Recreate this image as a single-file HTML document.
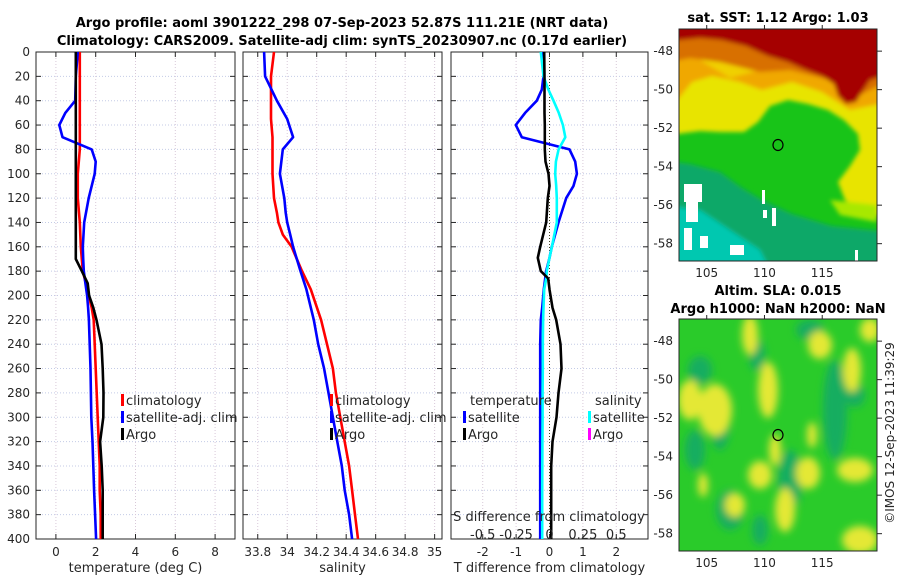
<!DOCTYPE html>
<html><head><meta charset="utf-8">
<style>
body{margin:0;background:#fff;}
svg{display:block;font-family:"DejaVu Sans","Liberation Sans",sans-serif;}
.t{font-size:12px;fill:#262626;}
.b{font-size:13px;font-weight:bold;fill:#000;}
.lg{font-size:13px;fill:#262626;}
</style></head>
<body>
<svg id="chart" width="900" height="580" viewBox="0 0 900 580">
<text class="b" x="342" y="27" text-anchor="middle">Argo profile: aoml 3901222_298 07-Sep-2023 52.87S 111.21E (NRT data)</text>
<text class="b" x="342" y="45" text-anchor="middle">Climatology: CARS2009. Satellite-adj clim: synTS_20230907.nc (0.17d earlier)</text>
<g id="panels"></g>

<!-- SST map -->
<text class="b" x="778" y="22" text-anchor="middle">sat. SST: 1.12 Argo: 1.03</text>
<defs>
<clipPath id="c1"><rect x="679" y="29" width="198" height="232"/></clipPath>
<clipPath id="c2"><rect x="679" y="319" width="198" height="232"/></clipPath>
<filter id="bl"><feGaussianBlur stdDeviation="4"/></filter>
<filter id="bl2"><feGaussianBlur stdDeviation="2"/></filter>
</defs>
<g clip-path="url(#c1)">
<rect x="679" y="29" width="198" height="232" fill="#18c418"/>
<g filter="url(#bl2)">
<polygon fill="#e8e400" points="660,20 890,20 890,218 862,212 845,200 838,182 850,166 860,150 858,134 844,120 828,110 808,104 788,100 770,106 758,122 744,132 720,132 700,131 660,136"/>
<polygon fill="#a8e800" points="830,200 877,205 877,222 840,215"/>
<polygon fill="#f0a800" points="660,20 890,20 890,102 850,110 822,92 792,82 762,90 740,82 712,76 692,82 679,98 660,112"/>
<polygon fill="#f0d000" points="700,60 740,55 760,70 730,78"/>
<polygon fill="#d87000" points="660,20 890,20 890,80 860,95 830,80 790,70 760,72 720,62 690,58 660,64"/>
<polygon fill="#a50000" points="660,20 890,20 890,74 870,80 862,92 856,102 846,104 838,96 834,84 822,76 806,70 788,62 768,56 746,46 722,40 700,38 660,42"/>
<polygon fill="#10a868" points="660,160 690,164 720,172 742,188 762,200 792,214 832,226 890,232 890,270 660,270"/>
<polygon fill="#00c8b0" points="660,205 700,210 730,230 760,250 770,270 660,270"/>
</g>
<g fill="#fff">
<rect x="684" y="184" width="18" height="18"/><rect x="686" y="200" width="12" height="22"/>
<rect x="684" y="228" width="8" height="22"/><rect x="700" y="236" width="8" height="12"/>
<rect x="730" y="245" width="14" height="10"/><rect x="762" y="190" width="3" height="14"/>
<rect x="772" y="208" width="4" height="18"/><rect x="763" y="210" width="4" height="8"/>
<rect x="855" y="250" width="3" height="11"/>
</g>
<ellipse cx="778" cy="145" rx="5" ry="5.5" fill="none" stroke="#000" stroke-width="1.2"/>
</g>
<rect x="679" y="29" width="198" height="232" fill="none" stroke="#262626" stroke-width="1"/>

<!-- SLA map -->
<text class="b" x="778" y="295" text-anchor="middle">Altim. SLA: 0.015</text>
<text class="b" x="778" y="313" text-anchor="middle">Argo h1000: NaN h2000: NaN</text>
<g clip-path="url(#c2)">
<rect x="679" y="319" width="198" height="232" fill="#2acb2a"/>
<g filter="url(#bl)">
<g fill="#18ad60">
<ellipse cx="700" cy="370" rx="12" ry="14"/><ellipse cx="757" cy="355" rx="8" ry="16"/>
<ellipse cx="720" cy="420" rx="10" ry="30"/><ellipse cx="695" cy="450" rx="10" ry="20"/>
<ellipse cx="835" cy="410" rx="12" ry="50"/><ellipse cx="855" cy="395" rx="10" ry="12"/>
<ellipse cx="790" cy="480" rx="12" ry="30"/><ellipse cx="730" cy="510" rx="14" ry="20"/>
<ellipse cx="810" cy="330" rx="14" ry="10"/><ellipse cx="760" cy="530" rx="8" ry="15"/>
</g>
<g fill="#e4e834">
<ellipse cx="715" cy="410" rx="17" ry="26"/><ellipse cx="690" cy="400" rx="12" ry="20"/>
<ellipse cx="768" cy="390" rx="10" ry="28"/><ellipse cx="750" cy="335" rx="8" ry="20"/>
<ellipse cx="820" cy="345" rx="12" ry="14"/><ellipse cx="852" cy="370" rx="9" ry="22"/>
<ellipse cx="855" cy="470" rx="18" ry="12"/><ellipse cx="760" cy="475" rx="12" ry="14"/>
<ellipse cx="808" cy="473" rx="12" ry="16"/><ellipse cx="735" cy="505" rx="10" ry="12"/>
<ellipse cx="785" cy="510" rx="10" ry="22"/><ellipse cx="860" cy="540" rx="18" ry="14"/>
<ellipse cx="870" cy="330" rx="10" ry="12"/><ellipse cx="775" cy="450" rx="6" ry="16"/>
<ellipse cx="812" cy="435" rx="5" ry="13"/><ellipse cx="703" cy="485" rx="5" ry="12"/>
</g>
</g>
<ellipse cx="778" cy="435" rx="5" ry="5.5" fill="none" stroke="#000" stroke-width="1.2"/>
</g>
<rect x="679" y="319" width="198" height="232" fill="none" stroke="#262626" stroke-width="1"/>
<text class="t" transform="translate(894,433) rotate(-90)" text-anchor="middle">©IMOS 12-Sep-2023 11:39:29</text>
<g id="maplabels"></g>
</svg>
<script>
// ---- data ----
const depthTemp = [0,20,40,50,60,70,80,90,100,120,140,160,170,180,190,200,210,220,240,260,280,300,320,340,360,380,400];
const tempClim  = [1.2,1.2,1.2,1.2,1.2,1.2,1.2,1.15,1.1,1.1,1.2,1.25,1.3,1.35,1.5,1.65,1.8,1.9,1.95,2.0,2.05,2.1,2.15,2.2,2.2,2.25,2.25];
const tempSat   = [1.1,1.0,0.97,0.47,0.17,0.33,1.8,2.0,1.95,1.65,1.42,1.35,1.37,1.4,1.48,1.57,1.62,1.66,1.7,1.74,1.76,1.78,1.84,1.88,1.92,1.97,2.02];
const tempArgo  = [1.0,1.0,1.0,1.0,1.0,1.0,1.0,1.0,1.0,1.0,1.0,1.0,1.0,1.3,1.6,1.67,1.88,2.04,2.29,2.35,2.39,2.38,2.22,2.3,2.35,2.35,2.35];
const depthSal  = [0,20,40,55,70,80,100,120,132,140,150,160,180,195,220,240,260,280,300,320,340,360,380,400];
const salClim   = [33.91,33.89,33.89,33.89,33.9,33.9,33.9,33.91,33.93,33.94,33.97,34.03,34.1,34.16,34.23,34.27,34.31,34.33,34.36,34.39,34.42,34.44,34.46,34.48];
const salSat    = [33.843,33.85,33.93,34.0,34.04,33.97,33.95,33.98,33.99,34.0,34.02,34.04,34.09,34.13,34.18,34.21,34.25,34.28,34.31,34.34,34.37,34.39,34.42,34.44];
const depthDiff = [0,20,31,40,50,60,70,80,90,100,110,120,140,160,169,180,186,195,210,220,240,260,280,300,320,340,360,380,400];
const dTempSat  = [-0.2,-0.18,-0.23,-0.38,-0.73,-1.01,-0.83,0.6,0.77,0.82,0.72,0.5,0.27,0.07,0.0,-0.1,-0.13,-0.17,-0.22,-0.26,-0.28,-0.28,-0.28,-0.28,-0.28,-0.28,-0.28,-0.28,-0.28];
const dTempArgo = [-0.16,-0.15,-0.15,-0.15,-0.15,-0.14,-0.14,-0.14,-0.12,-0.03,0.0,-0.05,-0.1,-0.28,-0.35,-0.26,-0.04,0.0,0.09,0.2,0.33,0.36,0.27,0.21,0.09,0.05,0.05,0.05,0.05];
const dSalSat   = [-0.065,-0.045,-0.008,0.03,0.07,0.1,0.118,0.068,0.048,0.043,0.05,0.055,0.055,0.018,0.0,-0.02,-0.025,-0.04,-0.045,-0.048,-0.05,-0.05,-0.052,-0.052,-0.053,-0.054,-0.055,-0.055,-0.055];
const depthTicks = [0,20,40,60,80,100,120,140,160,180,200,220,240,260,280,300,320,340,360,380,400];
const tempTicks = [0,2,4,6,8];
const salTicks = [33.8,34,34.2,34.4,34.6,34.8,35];
const salTickLabels = ["33.8","34","34.2","34.4","34.6","34.8","35"];
const diffTicks = [-2,-1,0,1,2];
const sdiffTicks = [-0.5,-0.25,0,0.25,0.5];
const sdiffLabels = ["-0.5","-0.25","0","0.25","0.5"];
const latTicks = [-48,-50,-52,-54,-56,-58];
const lonTicks = [105,110,115];

const NS='http://www.w3.org/2000/svg';
const svg=document.getElementById('chart');
const G=document.getElementById('panels');
function mk(tag,attrs,parent){const e=document.createElementNS(NS,tag);for(const k in attrs)e.setAttribute(k,attrs[k]);(parent||G).appendChild(e);return e;}
const Y0=52,Y1=539;
function yD(d){return Y0+d*(Y1-Y0)/400;}
function xf(p){return v=>p.x0+(v-p.min)*(p.x1-p.x0)/(p.max-p.min);}
const P1={x0:36,x1:235,min:-1,max:9}, P2={x0:243,x1:442,min:33.7,max:35.05}, P3={x0:451,x1:648,min:-2.95,max:2.95};

function frame(p,ticks,labels,name,xlabel){
  const x=xf(p);
  const g=mk('g',{});
  
  
  depthTicks.forEach(d=>{
    const l=mk('line',{x1:p.x0,x2:p.x1,y1:yD(d),y2:yD(d),stroke:'#c4cbe6','stroke-width':1,'stroke-dasharray':'1,2'},g);
    
    
    mk('line',{x1:p.x0,x2:p.x0+5,y1:yD(d),y2:yD(d),stroke:'#262626'},g);
    mk('line',{x1:p.x1-5,x2:p.x1,y1:yD(d),y2:yD(d),stroke:'#262626'},g);
  });
  ticks.forEach((t,i)=>{
    const l=mk('line',{x1:x(t),x2:x(t),y1:Y0,y2:Y1,stroke:'#d8c8d8','stroke-width':1,'stroke-dasharray':'1,2'},g);
    
    
    mk('line',{x1:x(t),x2:x(t),y1:Y1,y2:Y1-5,stroke:'#262626'},g);
    mk('line',{x1:x(t),x2:x(t),y1:Y0,y2:Y0+5,stroke:'#262626'},g);
    const tx=mk('text',{x:x(t),y:556,'text-anchor':'middle',class:'t'},g);
    tx.textContent=labels[i];
    
    
  });
  const r=mk('rect',{x:p.x0,y:Y0,width:p.x1-p.x0,height:Y1-Y0,fill:'none',stroke:'#262626','stroke-width':1},g);
  
  
  const xl=mk('text',{x:(p.x0+p.x1)/2,y:572,'text-anchor':'middle',class:'lg'},g);
  xl.textContent=xlabel;
  
  
  return g;
}
function line(g,xfun,vals,depths,color,name){
  const pts=vals.map((v,i)=>xfun(v).toFixed(1)+','+yD(depths[i]).toFixed(1)).join(' ');
  const l=mk('polyline',{points:pts,fill:'none',stroke:color,'stroke-width':2.6,'stroke-linejoin':'round'},g);
  
  
}
function legend(g,x,y,color,label,name){
  mk('rect',{x:x,y:y-11,width:3,height:12,fill:color},g);
  const t=mk('text',{x:x+5,y:y,class:'lg'},g);
  t.textContent=label;
  
  
}
// panel 1
const g1=frame(P1,tempTicks,tempTicks.map(String),'temperature-panel','temperature (deg C)');
depthTicks.forEach(d=>{const t=mk('text',{x:30,y:yD(d)+4,'text-anchor':'end',class:'t'},g1);t.textContent=d;

});
const x1=xf(P1);
line(g1,x1,tempClim,depthTemp,'#ff0000','temp-climatology-line');
line(g1,x1,tempSat,depthTemp,'#0000ff','temp-satellite-line');
line(g1,x1,tempArgo,depthTemp,'#000000','temp-argo-line');
legend(g1,121,405,'#ff0000','climatology','legend-climatology');
legend(g1,121,422,'#0000ff','satellite-adj. clim','legend-satellite');
legend(g1,121,439,'#000000','Argo','legend-argo');
// panel 2
const g2=frame(P2,salTicks,salTickLabels,'salinity-panel','salinity');
const x2=xf(P2);
line(g2,x2,salClim,depthSal,'#ff0000','sal-climatology-line');
line(g2,x2,salSat,depthSal,'#0000ff','sal-satellite-line');
legend(g2,330,405,'#ff0000','climatology','legend-climatology-2');
legend(g2,330,422,'#0000ff','satellite-adj. clim','legend-satellite-2');
legend(g2,330,439,'#000000','Argo','legend-argo-2');
// panel 3
const g3=frame(P3,diffTicks,diffTicks.map(String),'difference-panel','T difference from climatology');
const x3=xf(P3);
const z=mk('line',{x1:x3(0),x2:x3(0),y1:Y0,y2:Y1,stroke:'#404020','stroke-width':1,'stroke-dasharray':'1,2'},g3);


const xs=v=>x3(v*4);
line(g3,x3,dTempSat,depthDiff,'#0000ff','tdiff-satellite-line');
line(g3,xs,dSalSat,depthDiff,'#00ffff','sdiff-satellite-line');
line(g3,x3,dTempArgo,depthDiff,'#000000','tdiff-argo-line');
let t=mk('text',{x:470,y:405,class:'lg'},g3);t.textContent='temperature';


t=mk('text',{x:595,y:405,class:'lg'},g3);t.textContent='salinity';


legend(g3,463,422,'#0000ff','satellite','legend-t-satellite');
legend(g3,463,439,'#000000','Argo','legend-t-argo');
legend(g3,588,422,'#00ffff','satellite','legend-s-satellite');
legend(g3,588,439,'#ff00ff','Argo','legend-s-argo');
t=mk('text',{x:549,y:521,'text-anchor':'middle',class:'lg'},g3);t.textContent='S difference from climatology';


sdiffTicks.forEach((v,i)=>{const s=mk('text',{x:xs(v),y:539,'text-anchor':'middle',class:'lg'},g3);s.textContent=sdiffLabels[i];

});
// map labels
const ML=document.getElementById('maplabels');
const lonX=v=>679+(v-102.6)*11.55;
[[29,261,-46.85,-58.9],[319,551,-46.85,-58.9]].forEach((m,k)=>{
  const latY=v=>m[0]+(v-m[2])*(m[1]-m[0])/(m[3]-m[2]);
  latTicks.forEach(v=>{
    const tt=mk('text',{x:673,y:latY(v)+4,'text-anchor':'end',class:'t'},ML);tt.textContent=v;
    
    
    mk('line',{x1:877,x2:882,y1:latY(v),y2:latY(v),stroke:'#262626'},ML);
  });
  lonTicks.forEach(v=>{
    const tt=mk('text',{x:lonX(v),y:m[1]+16,'text-anchor':'middle',class:'t'},ML);tt.textContent=v;
    
    
    mk('line',{x1:lonX(v),x2:lonX(v),y1:m[0]-4,y2:m[0],stroke:'#262626'},ML);
  });
});
</script>
</body></html>
